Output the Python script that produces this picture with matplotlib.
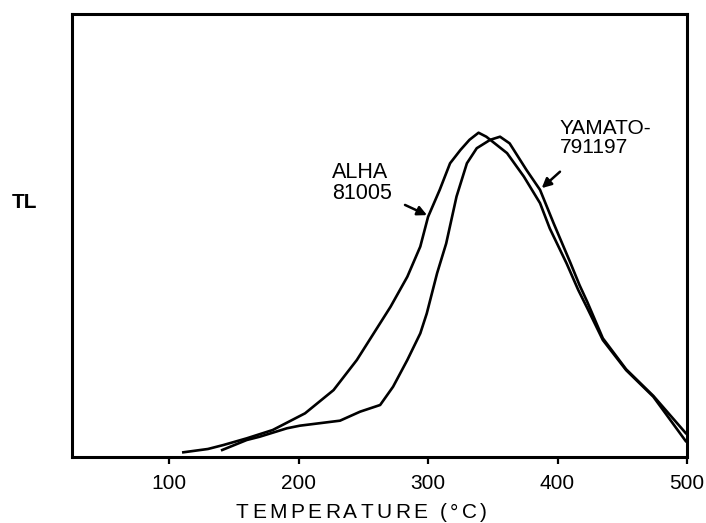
import matplotlib
matplotlib.use('Agg')
import matplotlib.pyplot as plt
from matplotlib.font_manager import FontProperties

plt.rcParams['font.family'] = ['Liberation Sans', 'DejaVu Sans']

# ALHA 81005 glow curve (temperature in C, TL intensity in % of axis height)
alha_temp = [111, 130, 142, 160, 180, 205, 227, 245, 258, 271, 284, 294, 300, 309,
             317, 325, 332, 339, 345, 361, 374, 386.5, 394, 407, 416, 423, 435, 453, 474, 499]
alha_tl = [1.06, 1.81, 2.71, 4.22, 6.09, 9.86, 15.1, 21.9, 27.9, 33.9, 40.7, 47.5,
           54.2, 60.3, 66.3, 69.3, 71.6, 73.2, 72.3, 68.6, 63.3, 57.3, 51.6, 43.7,
           37.7, 33.6, 26.4, 19.6, 13.6, 3.6]

# YAMATO-791197 glow curve
yamato_temp = [141, 160, 170, 191, 201, 232, 247.5, 263, 273, 284, 294, 299, 307, 314,
               322, 330, 337.6, 348, 355.6, 363, 376, 386.5, 397, 410, 417, 423, 435,
               453, 474, 499]
yamato_tl = [1.58, 3.84, 4.58, 6.48, 7.07, 8.2, 10.23, 11.74, 15.87, 21.9, 27.9, 32.4,
             41.5, 48.2, 58.8, 66.3, 69.7, 71.6, 72.3, 70.8, 64.8, 60.3, 52.75, 43.8,
             38.8, 35.0, 26.8, 19.8, 13.8, 5.4]

x_ticks = [100, 200, 300, 400, 500]
x_tick_labels = ['100', '200', '300', '400', '500']

W, H = 706, 523
fig = plt.figure(figsize=(W / 100, H / 100), dpi=100)
ax = fig.add_axes([72 / W, 1 - 457 / H, (687 - 72) / W, (457 - 14) / H])

ax.plot(alha_temp, alha_tl, color='black', lw=1.9, solid_joinstyle='round')
ax.plot(yamato_temp, yamato_tl, color='black', lw=1.9, solid_joinstyle='round')

ax.set_xlim(25, 500)
ax.set_ylim(0, 100)
ax.set_yticks([])
ax.set_xticks(x_ticks)
ax.set_xticklabels(x_tick_labels)
ax.tick_params(axis='x', direction='out', length=5, width=1.6, pad=7, labelsize=15)
for s in ax.spines.values():
    s.set_linewidth(2.2)

# annotations
ax.annotate('', xy=(299.2, 54.6), xytext=(282.2, 56.9),
            arrowprops=dict(arrowstyle='-|>', color='black', lw=1.8,
                            mutation_scale=14, shrinkA=0, shrinkB=0))
ax.text(225.9, 66.5, 'ALHA\n81005', ha='left', va='top', fontsize=15.5, linespacing=0.95)

ax.annotate('', xy=(387.8, 60.7), xytext=(401.9, 64.4),
            arrowprops=dict(arrowstyle='-|>', color='black', lw=1.8,
                            mutation_scale=14, shrinkA=0, shrinkB=0))
ax.text(401.9, 76.2, 'YAMATO-\n791197', ha='left', va='top', fontsize=15, linespacing=0.95)

fig.text(25 / W, 1 - 203 / H, 'TL', ha='center', va='center', fontsize=15, fontweight='bold')

# letter-spaced x-axis label
def spaced_text(s, x_left_px, x_right_px, y_px, **kw):
    renderer = fig.canvas.get_renderer()
    fp = FontProperties(family=plt.rcParams['font.family'], size=kw.get('fontsize', 15),
                        weight=kw.get('fontweight', 'normal'))
    widths = []
    for ch in s:
        w, h, d = renderer.get_text_width_height_descent(ch, fp, ismath=False)
        widths.append(w)
    gap = ((x_right_px - x_left_px) - sum(widths)) / (len(s) - 1)
    x = x_left_px
    for ch, w in zip(s, widths):
        fig.text(x / W, 1 - y_px / H, ch, ha='left', va='center', **kw)
        x += w + gap

spaced_text('TEMPERATURE (°C)', 236, 487, 513, fontsize=15)

fig.savefig('out.png', dpi=100)
